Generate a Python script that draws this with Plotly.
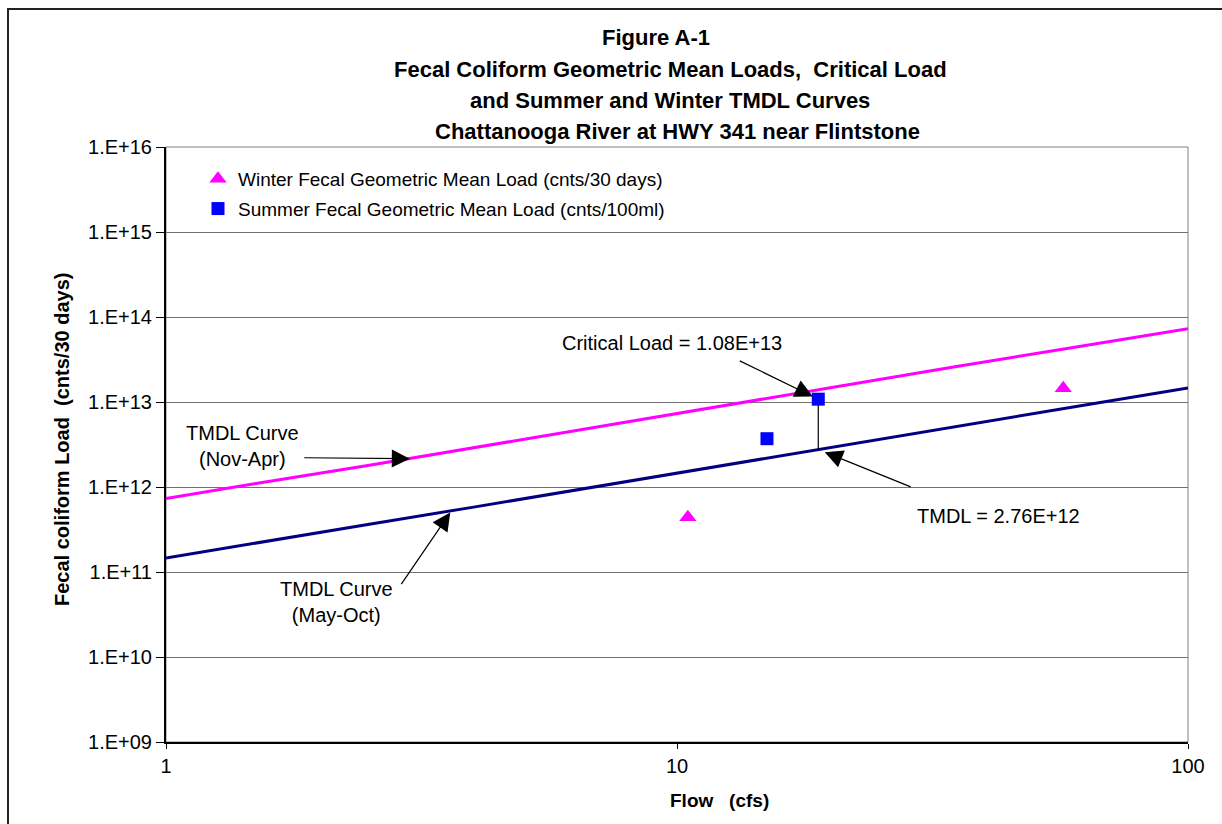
import math
import plotly.graph_objects as go

# ---- data -------------------------------------------------------------
curve_flow = [1, 1.5, 2.5, 4, 7, 12, 20, 35, 60, 100]
winter_tmdl = [7.3e11, 1.1e12, 1.8e12, 2.9e12, 5.1e12, 8.8e12, 1.46e13, 2.6e13, 4.4e13, 7.3e13]
summer_tmdl = [1.46e11, 2.2e11, 3.65e11, 5.8e11, 1.02e12, 1.75e12, 2.92e12, 5.1e12, 8.8e12, 1.46e13]

winter_flow = [10.5, 57]
winter_load = [4.4e11, 1.45e13]
summer_flow = [15.0, 18.9]
summer_load = [3.7e12, 1.08e13]

critical_flow = 18.9
critical_load = 1.08e13
tmdl_at_critical = 2.76e12

y_tick_vals = [1e9, 1e10, 1e11, 1e12, 1e13, 1e14, 1e15, 1e16]
y_tick_text = ["1.E+09", "1.E+10", "1.E+11", "1.E+12", "1.E+13", "1.E+14", "1.E+15", "1.E+16"]
x_tick_vals = [1, 10, 100]
x_tick_text = ["1", "10", "100"]

title_lines = [
    "Figure A-1",
    "Fecal Coliform Geometric Mean Loads,  Critical Load",
    "and Summer and Winter TMDL Curves",
    "Chattanooga River at HWY 341 near Flintstone",
]

# ---- layout geometry (pixels) -----------------------------------------
W, H = 1222, 824
ML, MR, MT, MB = 166, 34, 147, 82
PW, PH = W - ML - MR, H - MT - MB


def px(xp):
    return (xp - ML) / PW


def py(yp):
    return (H - MB - yp) / PH


FONT = "Liberation Sans, Arial, sans-serif"

fig = go.Figure()

fig.add_trace(go.Scatter(
    x=curve_flow, y=winter_tmdl, mode="lines",
    line=dict(color="#FF00FF", width=3), showlegend=False, hoverinfo="skip",
))
fig.add_trace(go.Scatter(
    x=curve_flow, y=summer_tmdl, mode="lines",
    line=dict(color="#000080", width=3), showlegend=False, hoverinfo="skip",
))
# vertical connector between the TMDL and the critical load
fig.add_trace(go.Scatter(
    x=[critical_flow, critical_flow], y=[tmdl_at_critical, critical_load], mode="lines",
    line=dict(color="black", width=1.2), showlegend=False, hoverinfo="skip",
))
fig.add_trace(go.Scatter(
    x=winter_flow, y=winter_load, mode="markers",
    name="Winter Fecal Geometric Mean Load (cnts/30 days)",
    marker=dict(symbol="triangle-up", size=15, color="#FF00FF"),
    legendgroup="w",
))
fig.add_trace(go.Scatter(
    x=summer_flow, y=summer_load, mode="markers",
    name="Summer Fecal Geometric Mean Load (cnts/100ml)",
    marker=dict(symbol="square", size=13, color="#0000FF"),
    legendgroup="s",
))

annotations = []
centers = [(656, 38), (670, 69), (670, 100), (677, 131)]
for line, (cx, cy) in zip(title_lines, centers):
    annotations.append(dict(
        text="<b>%s</b>" % line, xref="paper", yref="paper",
        x=px(cx), y=py(cy), xanchor="center", yanchor="middle", showarrow=False,
        font=dict(family=FONT, size=22, color="black"),
    ))

# axis titles
annotations.append(dict(
    text="<b>Fecal coliform Load  (cnts/30 days)</b>", textangle=-90,
    xref="paper", yref="paper", x=px(62), y=py(440),
    xanchor="center", yanchor="middle", showarrow=False,
    font=dict(family=FONT, size=20, color="black"),
))
annotations.append(dict(
    text="<b>Flow   (cfs)</b>", xref="paper", yref="paper", x=px(719), y=py(800),
    xanchor="center", yanchor="middle", showarrow=False,
    font=dict(family=FONT, size=19, color="black"),
))

# callout labels
label_font = dict(family=FONT, size=20, color="black")
annotations += [
    dict(text="Critical Load = 1.08E+13", xref="paper", yref="paper",
         x=px(672), y=py(343), xanchor="center", yanchor="middle",
         showarrow=False, font=label_font),
    dict(text="TMDL = 2.76E+12", xref="paper", yref="paper",
         x=px(998), y=py(516), xanchor="center", yanchor="middle",
         showarrow=False, font=label_font),
    dict(text="TMDL Curve<br>(Nov-Apr)", xref="paper", yref="paper",
         x=px(242), y=py(446), xanchor="center", yanchor="middle",
         showarrow=False, font=label_font),
    dict(text="TMDL Curve<br>(May-Oct)", xref="paper", yref="paper",
         x=px(336), y=py(602), xanchor="center", yanchor="middle",
         showarrow=False, font=label_font),
]

# arrows
arrow_style = dict(showarrow=True, arrowhead=2, arrowsize=3.0, arrowwidth=1.2,
                   arrowcolor="black", text="", xref="x", yref="y")
annotations += [
    dict(x=math.log10(critical_flow), y=math.log10(critical_load),
         ax=-80, ay=-39, standoff=6, **arrow_style),
    dict(x=math.log10(critical_flow), y=math.log10(tmdl_at_critical),
         ax=94, ay=38, standoff=7, **arrow_style),
    dict(x=math.log10(3.0), y=math.log10(2.15e12),
         ax=-107, ay=-1, standoff=0, **arrow_style),
    dict(x=math.log10(3.6), y=math.log10(5.0e11),
         ax=-50, ay=73, standoff=0, **arrow_style),
]

shapes = [
    # plot-area frame
    dict(type="rect", xref="paper", yref="paper", x0=0, y0=0, x1=1, y1=1,
         line=dict(color="#808080", width=1), layer="below"),
    # outer chart frame
    dict(type="rect", xref="paper", yref="paper",
         x0=px(8), y0=py(840), x1=px(1240), y1=py(9),
         line=dict(color="#222222", width=2)),
]

fig.update_layout(
    width=W, height=H,
    margin=dict(l=ML, r=MR, t=MT, b=MB, pad=0),
    paper_bgcolor="white", plot_bgcolor="white",
    font=dict(family=FONT, size=20, color="black"),
    annotations=annotations, shapes=shapes,
    showlegend=True,
    legend=dict(x=px(198), y=py(160), xanchor="left", yanchor="top",
                bgcolor="rgba(0,0,0,0)", borderwidth=0,
                font=dict(family=FONT, size=19, color="black"),
                tracegroupgap=2, traceorder="grouped"),
)

fig.update_xaxes(
    type="log", range=[0, 2], tickmode="array",
    tickvals=x_tick_vals, ticktext=x_tick_text,
    showgrid=False, zeroline=False,
    showline=True, linecolor="black", linewidth=2,
    ticks="outside", ticklen=5, tickcolor="black", tickwidth=1,
    tickfont=dict(family=FONT, size=20, color="black"),
)
fig.update_yaxes(
    type="log", range=[9, 16], tickmode="array",
    tickvals=y_tick_vals, ticktext=y_tick_text,
    showgrid=True, gridcolor="#707070", gridwidth=1, zeroline=False,
    showline=True, linecolor="black", linewidth=2,
    ticks="outside", ticklen=8, tickcolor="black", tickwidth=1,
    tickfont=dict(family=FONT, size=20, color="black"),
)

fig.write_html("out.html")
